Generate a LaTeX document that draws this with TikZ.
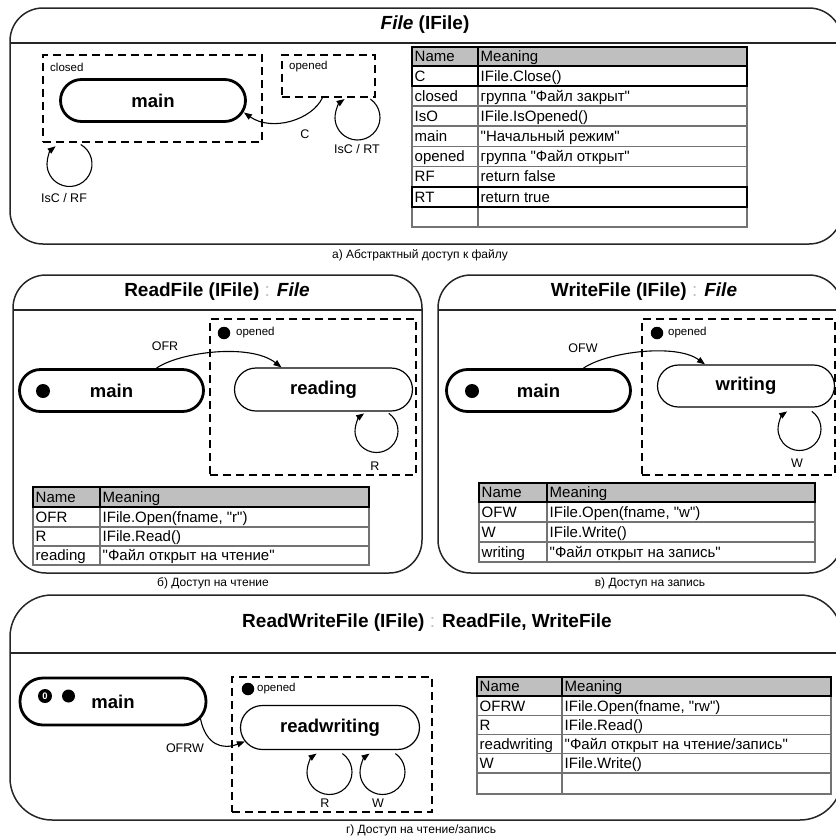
\documentclass[tikz,border=0pt]{standalone}
\usepackage{fontspec}
\setmainfont{Liberation Sans}[Ligatures=TeXOff]
\usetikzlibrary{arrows.meta,calc}

\newcommand\fTitle{\fontsize{19}{23}\selectfont\bfseries}
\newcommand\fState{\fontsize{18.5}{22}\selectfont\bfseries}
\newcommand\fLabel{\fontsize{12.5}{15}\selectfont}
\newcommand\fGroup{\fontsize{11.5}{14}\selectfont}
\newcommand\fTable{\fontsize{15}{18}\selectfont}
\newcommand\fCaption{\fontsize{12}{14}\selectfont}
\newcommand\colonsep{{\mdseries\color{black!25}:}}

% one table row: style, name prefix, x-left, x-divider, x-right, y-top, y-bottom, key, meaning
\newcommand\trow[9]{%
  \draw[#1] (#3,-#6) rectangle (#5,-#7);
  \draw[#1] (#4,-#6) -- (#4,-#7);
  \node[cell] (#2k) at (#3,{-(#6+#7)/2}) {#8};
  \node[cell] (#2m) at (#4,{-(#6+#7)/2}) {#9};
}

\tikzset{
  panel/.style={draw=black!85, line width=1.5},
  bigstate/.style={draw, line width=2.8, inner sep=0, font=\fState},
  state/.style={draw, line width=1.2, inner sep=0, font=\fState},
  group/.style={draw, line width=1.2, dash pattern=on 8pt off 5pt, inner sep=0},
  grouplabel/.style={anchor=west, inner sep=0, font=\fGroup},
  startdot/.style={circle, fill=black, inner sep=0, minimum size=14},
  arr/.style={line width=1.1, -{Triangle[length=8pt,width=6pt]}},
  lab/.style={inner sep=0, font=\fLabel},
  cell/.style={anchor=west, inner xsep=2.5, inner ysep=0, text height=10.5, text depth=0, font=\fTable},
  rowgray/.style={draw=black!55, line width=1.8},
  rowblack/.style={draw=black, line width=2},
  rowhead/.style={draw=black, line width=2.2, fill=black!25},
  capt/.style={inner sep=0, font=\fCaption},
}

\begin{document}
\begin{tikzpicture}[x=1pt, y=1pt]
\useasboundingbox (0,0) rectangle (836,-839);

% ---------------- a) abstract file access ----------------
\draw[panel, rounded corners=33pt] (10,-8) rectangle (842,-244);
\draw[panel] (10,-43) -- (842,-43);
\node (titleA) at (425,-25) {\fTitle\textit{File} (IFile)};

\node[group, minimum width=219, minimum height=87] (closedA) at (152.5,-98.5) {};
\node[grouplabel] (closedAl) at (50,-67) {closed};
\node[bigstate, rounded corners=21pt, minimum width=185, minimum height=42] (mainA) at (153,-100.5) {main};
\node[group, minimum width=93, minimum height=42] (openedA) at (328.5,-76) {};
\node[grouplabel] (openedAl) at (289,-67) {opened};

\draw[arr] ($(openedA.south)+(-6,0)$) .. controls (312,-120) and (272,-132) .. ($(mainA.east)+(-3,-12)$);
\node[lab] (lC) at (305,-134) {C};

\coordinate (cRT) at (357.5,-117.5);
\draw[arr] (cRT) ++(55:22.5) arc[start angle=55, end angle=-235, radius=22.5];
\node[lab] (lRT) at (357,-149) {IsC / RT};

\coordinate (cRF) at (69.5,-164);
\draw[arr] (cRF) ++(60:22.5) arc[start angle=60, end angle=-232, radius=22.5];
\node[lab] (lRF) at (64,-198) {IsC / RF};

\trow{rowgray}{tAb}{412}{478}{747}{86}{106}{closed}{группа "Файл закрыт"}
\trow{rowgray}{tAc}{412}{478}{747}{106}{126}{IsO}{IFile.IsOpened()}
\trow{rowgray}{tAd}{412}{478}{747}{126}{146.5}{main}{"Начальный режим"}
\trow{rowgray}{tAe}{412}{478}{747}{146.5}{166.5}{opened}{группа "Файл открыт"}
\trow{rowgray}{tAf}{412}{478}{747}{166.5}{186.5}{RF}{return false}
\trow{rowgray}{tAh}{412}{478}{747}{207}{227}{}{}
\trow{rowblack}{tAa}{412}{478}{747}{66}{86}{C}{IFile.Close()}
\trow{rowblack}{tAg}{412}{478}{747}{186.5}{207}{RT}{return true}
\trow{rowhead}{tA0}{412}{478}{747}{47}{66}{Name}{Meaning}

\node[capt] (capA) at (420,-255) {а) Абстрактный доступ к файлу};

% ---------------- b) read access ----------------
\draw[panel, rounded corners=33pt] (13,-275) rectangle (422,-573);
\draw[panel] (13,-310) -- (422,-310);
\node (titleB) at (217,-292) {\fTitle ReadFile (IFile) \colonsep{} \textit{File}};

\node[bigstate, rounded corners=21pt, minimum width=184, minimum height=42] (mainB) at (111.5,-390.5) {main};
\node[startdot] (initB) at (43,-391) {};
\node[group, minimum width=206, minimum height=156] (openedB) at (313,-397) {};
\node[startdot, minimum size=12.5] (initBo) at (224,-333) {};
\node[grouplabel] (openedBl) at (236,-333) {opened};
\node[state, rounded corners=21.5pt, minimum width=178, minimum height=43] (reading) at (323.5,-389.5) {reading};

\draw[arr] ($(mainB.north)+(45,0)$) .. controls (180,-352) and (250,-343) .. ($(reading.north)+(-42,0)$);
\node[lab] (lOFR) at (165,-346) {OFR};

\coordinate (cRB) at (376.5,-431);
\draw[arr] (cRB) ++(55:21.5) arc[start angle=55, end angle=-235, radius=21.5];
\node[lab] (lRB) at (375,-466) {R};

\trow{rowgray}{tBa}{33}{100}{369}{507}{527}{OFR}{IFile.Open(fname, "r")}
\trow{rowgray}{tBb}{33}{100}{369}{527}{546}{R}{IFile.Read()}
\trow{rowgray}{tBc}{33}{100}{369}{546}{565}{reading}{"Файл открыт на чтение"}
\trow{rowhead}{tB0}{33}{100}{369}{487}{507}{Name}{Meaning}

\node[capt] (capB) at (213,-583) {б) Доступ на чтение};

% ---------------- c) write access ----------------
\draw[panel, rounded corners=33pt] (438,-275) rectangle (842,-573);
\draw[panel] (438,-310) -- (842,-310);
\node (titleC) at (644,-292) {\fTitle WriteFile (IFile) \colonsep{} \textit{File}};

\node[bigstate, rounded corners=21pt, minimum width=184, minimum height=42] (mainC) at (538.5,-390.5) {main};
\node[startdot] (initC) at (472,-391) {};
\node[group, minimum width=193, minimum height=156] (openedC) at (738.5,-397) {};
\node[startdot, minimum size=12.5] (initCo) at (657,-333) {};
\node[grouplabel] (openedCl) at (668,-333) {opened};
\node[state, rounded corners=21pt, minimum width=177, minimum height=42] (writing) at (746,-386) {writing};

\draw[arr] ($(mainC.north)+(45,0)$) .. controls (607,-352) and (676,-343) .. ($(writing.north)+(-41,0)$);
\node[lab] (lOFW) at (583,-348) {OFW};

\coordinate (cWC) at (799.5,-429);
\draw[arr] (cWC) ++(55:21.5) arc[start angle=55, end angle=-235, radius=21.5];
\node[lab] (lWC) at (797,-463) {W};

\trow{rowgray}{tCa}{479}{547}{815}{502}{522}{OFW}{IFile.Open(fname, "w")}
\trow{rowgray}{tCb}{479}{547}{815}{522}{542}{W}{IFile.Write()}
\trow{rowgray}{tCc}{479}{547}{815}{542}{562}{writing}{"Файл открыт на запись"}
\trow{rowhead}{tC0}{479}{547}{815}{483}{502}{Name}{Meaning}

\node[capt] (capC) at (650,-583) {в) Доступ на запись};

% ---------------- d) read/write access ----------------
\draw[panel, rounded corners=42pt] (10,-595) rectangle (842,-820);
\draw[panel] (10,-653) -- (842,-653);
\node (titleD) at (427,-623) {\fTitle ReadWriteFile (IFile) \colonsep{} ReadFile, WriteFile};

\node[bigstate, rounded corners=23pt, minimum width=186, minimum height=47] (mainD) at (113,-701.5) {main};
\node[startdot, text=white, font=\fontsize{9.5}{10}\selectfont\bfseries] (histD) at (45,-696) {0};
\node[startdot, minimum size=13] (initD) at (68.5,-696) {};
\node[group, minimum width=200, minimum height=135] (openedD) at (332,-744.5) {};
\node[startdot, minimum size=12.5] (initDo) at (248,-689) {};
\node[grouplabel] (openedDl) at (257,-689) {opened};
\node[state, rounded corners=22pt, minimum width=179, minimum height=44] (readwriting) at (330,-727.5) {readwriting};

\draw[arr] ($(mainD.east)+(-7,-17)$) .. controls (206,-745) and (222,-750) .. ($(readwriting.west)+(5,-14)$);
\node[lab] (lOFRW) at (185,-748) {OFRW};

\coordinate (cRD) at (329.5,-772);
\draw[arr] (cRD) ++(55:22.5) arc[start angle=55, end angle=-235, radius=22.5];
\node[lab] (lRD) at (325,-803) {R};
\coordinate (cWD) at (382.5,-772);
\draw[arr] (cWD) ++(55:22.5) arc[start angle=55, end angle=-235, radius=22.5];
\node[lab] (lWD) at (378,-803) {W};

\trow{rowgray}{tDa}{477}{562}{831}{696}{715.5}{OFRW}{IFile.Open(fname, "rw")}
\trow{rowgray}{tDb}{477}{562}{831}{715.5}{734.5}{R}{IFile.Read()}
\trow{rowgray}{tDc}{477}{562}{831}{734.5}{753.5}{readwriting}{"Файл открыт на чтение/запись"}
\trow{rowgray}{tDd}{477}{562}{831}{753.5}{773}{W}{IFile.Write()}
\trow{rowgray}{tDe}{477}{562}{831}{773}{794}{}{}
\trow{rowhead}{tD0}{477}{562}{831}{677}{696}{Name}{Meaning}

\node[capt] (capD) at (421,-830) {г) Доступ на чтение/запись};
\end{tikzpicture}
\end{document}
